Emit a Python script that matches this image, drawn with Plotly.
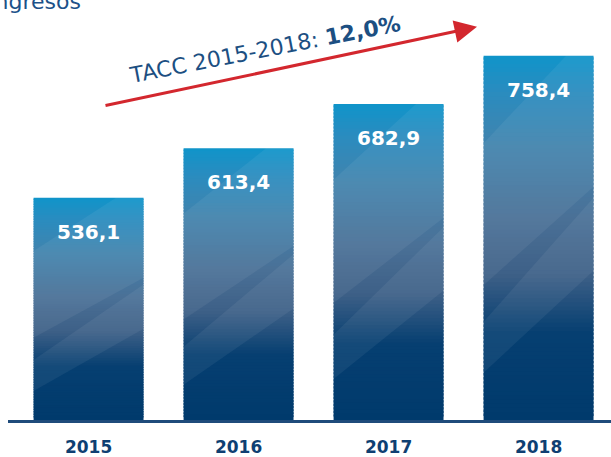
import plotly.graph_objects as go

# ---- data ----
years = [2015, 2016, 2017, 2018]
ingresos = [536.1, 613.4, 682.9, 758.4]
value_labels = ["536,1", "613,4", "682,9", "758,4"]
tick_labels = ["2015", "2016", "2017", "2018"]
title_text = "Ingresos"
tacc_text = "TACC 2015-2018: "
tacc_value = "12,0%"

# ---- styling ----
Y_MIN, Y_MAX = 188, 845.6
X_MIN, X_MAX = 2014.463, 2018.483
BAR_W = 0.733
N_SEG = 90
stops = [(0.00, "#0f94ca"), (0.10, "#2a8cbf"), (0.25, "#4283ad"), (0.45, "#4a7096"),
         (0.60, "#3e6087"), (0.76, "#063f71"), (1.00, "#003a6c")]
# decorative diagonal highlight bands, as fractions of each bar's height
# (left-edge fraction, right-edge fraction) for lower and upper border lines
bands = [((0.37, 0.64), (0.76, 1.08)), ((0.13, 0.41), (0.27, 0.61))]
BAND_FILL = "rgba(255,255,255,0.06)"


def hex2rgb(h):
    return tuple(int(h[i:i + 2], 16) for i in (1, 3, 5))


def grad(t):
    for (t0, c0), (t1, c1) in zip(stops[:-1], stops[1:]):
        if t0 <= t <= t1:
            f = (t - t0) / (t1 - t0) if t1 > t0 else 0
            a, b = hex2rgb(c0), hex2rgb(c1)
            return "rgb(%d,%d,%d)" % tuple(round(a[i] + (b[i] - a[i]) * f) for i in range(3))
    return stops[-1][1]


fig = go.Figure()
for k in range(N_SEG):
    frac_top = 1 - (k + 0.5) / N_SEG
    bases = [Y_MIN + (v - Y_MIN) * k / N_SEG for v in ingresos]
    heights = [(v - Y_MIN) / N_SEG * (1.0 if k == N_SEG - 1 else 1.6) for v in ingresos]
    fig.add_trace(go.Bar(
        x=years, y=heights, base=bases, width=BAR_W,
        marker=dict(color=grad(frac_top), line=dict(width=0)),
        hoverinfo="skip", showlegend=False,
    ))

shapes = []
for x, v in zip(years, ingresos):
    x0, x1 = x - BAR_W / 2, x + BAR_W / 2
    h = v - Y_MIN
    fy = lambda f: Y_MIN + f * h
    for (lo_l, lo_r), (hi_l, hi_r) in bands:
        pts = [(x0, fy(lo_l)), (x1, fy(lo_r))]
        if hi_r > 1.0:
            t = (1.0 - hi_l) / (hi_r - hi_l)
            pts += [(x1, fy(1.0)), (x0 + t * BAR_W, fy(1.0)), (x0, fy(hi_l))]
        else:
            pts += [(x1, fy(hi_r)), (x0, fy(hi_l))]
        path = "M " + " L ".join("%f,%f" % p for p in pts) + " Z"
        shapes.append(dict(type="path", path=path, xref="x", yref="y",
                           fillcolor=BAND_FILL, line=dict(width=0), layer="above"))

annotations = []
for x, v, lab in zip(years, ingresos, value_labels):
    annotations.append(dict(x=x, y=v, xref="x", yref="y", text=lab, showarrow=False,
                            xanchor="center", yanchor="top", yshift=-20,
                            font=dict(family="DejaVu Sans", size=20, color="white", weight="bold")))

W, H, L, B = 611, 457, 8, 35
PH = H - B


def px(xp):
    return (xp - L) / (W - L)


def py(yp):
    return (PH - yp) / PH


annotations.append(dict(x=px(83), y=py(16), xref="paper", yref="paper", xanchor="right",
                        yanchor="bottom", text=title_text, showarrow=False,
                        font=dict(family="DejaVu Sans", size=22, color="#1c5189")))
annotations.append(dict(x=px(477), y=py(27), xref="paper", yref="paper", text="",
                        showarrow=True, ax=-373, ay=79, arrowcolor="#d3272e",
                        arrowwidth=3, arrowhead=2, arrowsize=1.5, standoff=0))
annotations.append(dict(x=px(265), y=py(50), xref="paper", yref="paper",
                        xanchor="center", yanchor="middle",
                        text=tacc_text + "<b>" + tacc_value + "</b>", showarrow=False,
                        textangle=-11,
                        font=dict(family="DejaVu Sans", size=22, color="#1c4f82")))

fig.update_layout(
    width=W, height=H,
    margin=dict(l=L, r=0, t=0, b=B),
    barmode="overlay",
    plot_bgcolor="white", paper_bgcolor="white",
    annotations=annotations,
    shapes=shapes,
    xaxis=dict(range=[X_MIN, X_MAX], tickvals=years, ticktext=tick_labels,
               showgrid=False, zeroline=False, showline=True, linecolor="#1f4b7b",
               linewidth=2.5, ticks="", ticklabelstandoff=10,
               tickfont=dict(family="DejaVu Sans", size=17, color="#0f3f72", weight="bold")),
    yaxis=dict(range=[Y_MIN, Y_MAX], visible=False, showgrid=False, zeroline=False),
)

fig.write_html("out.html", config={"displayModeBar": False},
               post_script="document.body.style.margin='0px';document.body.style.padding='0px';")
